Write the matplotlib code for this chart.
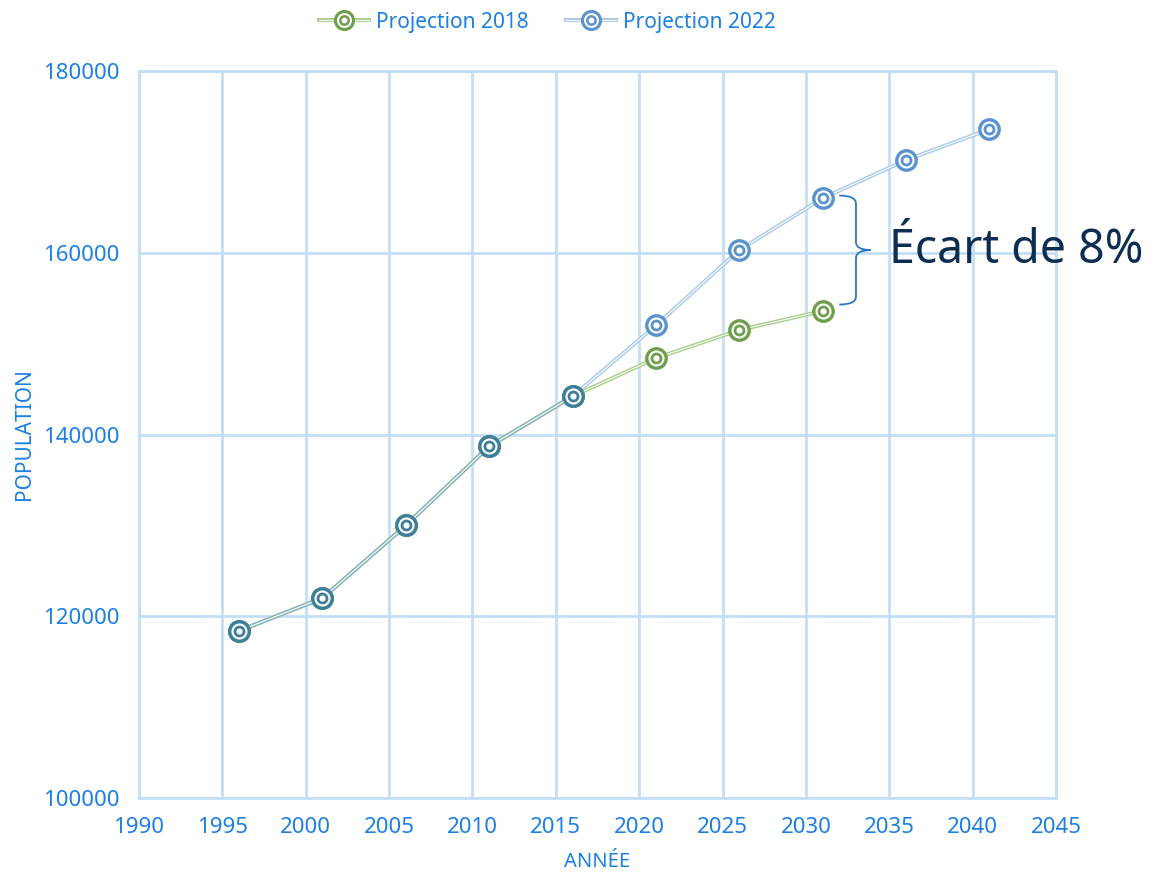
import matplotlib.pyplot as plt
from matplotlib.lines import Line2D
from matplotlib.legend_handler import HandlerTuple
from matplotlib.path import Path
from matplotlib.patches import PathPatch

plt.rcParams['font.family'] = ['Noto Sans', 'DejaVu Sans']

# data
years_2018 = [1996, 2001, 2006, 2011, 2016, 2021, 2026, 2031]
pop_2018 = [118400, 122000, 130000, 138700, 144200, 148400, 151500, 153600]
years_2022 = [1996, 2001, 2006, 2011, 2016, 2021, 2026, 2031, 2036, 2041]
pop_2022 = [118400, 122000, 130000, 138700, 144200, 152000, 160300, 166000, 170200, 173600]
series_names = ["Projection 2018", "Projection 2022"]
x_ticks = list(range(1990, 2050, 5))
y_ticks = [100000, 120000, 140000, 160000, 180000]
note = "Écart de 8%"

tick_blue = "#1b7fe3"
grid_blue = "#c3dff7"
green_line, green_mark = "#a6cf8a", "#6f9f4c"
blue_line, blue_mark = "#a7c9ea", "#5b93cc"
both_line, both_mark = "#86b4b8", "#3f7f9b"  # where the two projections coincide

fig = plt.figure(figsize=(11.5, 8.76), dpi=100)
ax = fig.add_axes([0.1209, 0.089, 0.7974, 0.8299])


def draw_series(xs, ys, lc, mc, z):
    # double line look: colored line with a thin white core
    ax.plot(xs, ys, color=lc, lw=2.8, zorder=z, solid_capstyle='butt')
    ax.plot(xs, ys, color='white', lw=0.8, zorder=z + 0.1)
    ax.plot(xs, ys, ls='none', marker='o', ms=14, mfc='white', mec=mc, mew=2.4,
            zorder=z + 0.2)
    ax.plot(xs, ys, ls='none', marker='o', ms=6.5, mfc='white', mec=mc, mew=2.0,
            zorder=z + 0.3)


draw_series(years_2022, pop_2022, blue_line, blue_mark, 3)
draw_series(years_2018, pop_2018, green_line, green_mark, 4)

# shared history: both series identical, shown in the blended colour
shared = [(x, a) for x, a, b in zip(years_2018, pop_2018, pop_2022) if a == b]
draw_series([p[0] for p in shared], [p[1] for p in shared], both_line, both_mark, 5)

ax.set_xlim(1990, 2045)
ax.set_ylim(100000, 180000)
ax.set_xticks(x_ticks)
ax.set_yticks(y_ticks)
ax.grid(True, color=grid_blue, lw=2)
ax.set_axisbelow(True)
for s in ax.spines.values():
    s.set_color(grid_blue)
    s.set_linewidth(2)
ax.tick_params(length=0, colors=tick_blue, labelsize=16, pad=14)
ax.set_xlabel("ANNÉE", color=tick_blue, fontsize=14.5, labelpad=10)
ax.set_ylabel("POPULATION", color=tick_blue, fontsize=15, labelpad=6)

# curly brace between the two 2031 values
x_tip, x_sp, x_pt = 2032.0, 2033.0, 2033.9
y_top, y_bot = 166300, 154300
y_mid = (y_top + y_bot) / 2
r = 900
verts = [(x_tip, y_top), (x_sp, y_top), (x_sp, y_top - r),
         (x_sp, y_mid + r),
         (x_sp, y_mid), (x_pt, y_mid),
         (x_sp, y_mid), (x_sp, y_mid - r),
         (x_sp, y_bot + r),
         (x_sp, y_bot), (x_tip, y_bot)]
codes = [Path.MOVETO, Path.CURVE3, Path.CURVE3,
         Path.LINETO,
         Path.CURVE3, Path.CURVE3,
         Path.CURVE3, Path.CURVE3,
         Path.LINETO,
         Path.CURVE3, Path.CURVE3]
ax.add_patch(PathPatch(Path(verts, codes), fill=False, ec="#2b78c2", lw=1.3, zorder=6))
ax.text(2035.0, y_mid, note, fontsize=33.5, color="#0d2e52", va='center', ha='left',
        zorder=7)


def legend_handle(lc, mc):
    return (Line2D([], [], color=lc, lw=2.8),
            Line2D([], [], color='white', lw=0.8),
            Line2D([], [], ls='none', marker='o', ms=13, mfc='white', mec=mc, mew=2.2),
            Line2D([], [], ls='none', marker='o', ms=6, mfc='white', mec=mc, mew=1.8))


handles = [legend_handle(green_line, green_mark), legend_handle(blue_line, blue_mark)]
leg = fig.legend(handles, series_names, handler_map={tuple: HandlerTuple(ndivide=1)},
                 loc='upper center', bbox_to_anchor=(0.476, 1.008), ncol=2, frameon=False,
                 fontsize=15, handlelength=2.4, columnspacing=1.8, handletextpad=0.35)
for t in leg.get_texts():
    t.set_color(tick_blue)

fig.savefig("out.png", dpi=100)
